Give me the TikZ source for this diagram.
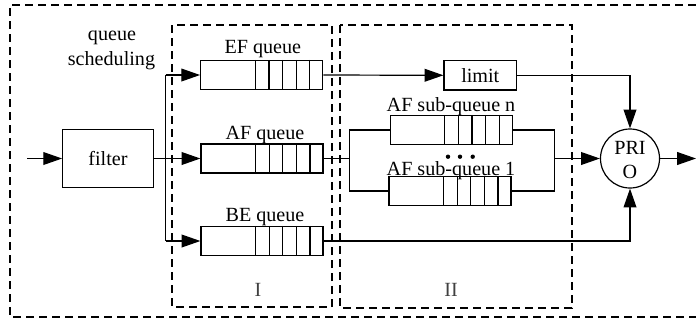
\documentclass[tikz,border=0pt]{standalone}
\usepackage{fontspec}
\setmainfont{Liberation Serif}
\usetikzlibrary{arrows.meta,calc}
\begin{document}
\begin{tikzpicture}[x=0.5bp,y=-0.5bp,
  line width=0.6bp,
  font=\fontsize{10.1}{12}\selectfont,
  arr/.style={-{Triangle[length=9.4bp,width=6.4bp]}},
  dashbox/.style={dashed,dash pattern=on 4bp off 2.5bp,line width=0.65bp},
  qbox/.style={draw,rectangle,inner sep=0pt,minimum width=61bp,minimum height=14.5bp},
  plainbox/.style={draw,rectangle,inner sep=0pt},
  lbl/.style={anchor=base,inner sep=0pt}]
\useasboundingbox (0,0) rectangle (696,322);
% dashed frames
\draw[dashbox] (696,5) -- (10,5) -- (10,317) -- (696,317);
\draw[dashbox] (172,25) rectangle (332,307);
\draw[dashbox] (340,25) rectangle (572,308);
% texts
\node[lbl] (qs1) at (112,40) {queue};
\node[lbl] (qs2) at (111.5,65) {scheduling};
\node[lbl,text=black!75] (r1) at (258,296.5) {I};
\node[lbl,text=black!75] (r2) at (451,296) {II};
% filter
\node[plainbox,minimum width=45.3bp,minimum height=28.8bp] (filt) at (108,158.5) {filter};
\coordinate (in) at (27,158.5);
\draw[arr] (in) -- (filt.west);
% queues
\node[qbox] (ef) at (261.7,75) {};
\node[qbox] (af) at (262,158.5) {};
\node[qbox] (be) at (262,241) {};
\node[lbl] (efl) at (262.8,53.3) {EF queue};
\node[lbl] (afl) at (265,139.5) {AF queue};
\node[lbl] (bel) at (265,221.7) {BE queue};
% branch
\coordinate (bt) at (165.7,75);
\coordinate (br) at (165.7,158.5);
\coordinate (bb) at (165.7,241);
\draw (filt.east) -- (br);
\draw (bt) -- (bb);
\draw[arr] (bt) -- (ef.west);
\draw[arr] (br) -- (af.west);
\draw[arr] (bb) -- (be.west);
% limit
\node[plainbox,minimum width=36.3bp,minimum height=14.7bp] (lim) at (480.3,75.3) {limit};
\draw[arr] (ef.east) -- (lim.west);
% PRIO
\node[draw,circle,inner sep=0pt,minimum size=29.5bp] (prio) at (630,158.5) {};
\node[lbl] (pt1) at (630,154) {PRI};
\node[lbl] (pt2) at (630,178) {O};
\draw[arr] (lim.east) -| (prio.north);
\draw[arr] (be.east) -| (prio.south);
\coordinate (out) at (696,158.5);
\draw[arr] (prio.east) -- (out);
% AF sub-queues
\node[qbox] (sn) at (451.2,130) {};
\node[qbox] (s1) at (450,191) {};
\node[lbl] (snl) at (451,111.7) {AF sub-queue n};
\node[lbl] (s1l) at (451,175) {AF sub-queue 1};
\foreach \dx in {448,460,472.7}
  \fill (\dx,156.7) circle (1.1bp);
\coordinate (jl) at (349.3,158.5);
\coordinate (jr) at (554.3,158.5);
\draw (af.east) -- (jl);
\draw (sn.west) -| (jl) |- (s1.west);
\draw (sn.east) -| (jr) |- (s1.east);
\draw[arr] (jr) -- (prio.west);
% queue cells
\foreach \q in {ef,af,be,sn,s1}
  \foreach \k in {1,...,5}
    \draw ($(\q.north east)+(-13.6*\k,0)$) -- ($(\q.south east)+(-13.6*\k,0)$);
\end{tikzpicture}
\end{document}
